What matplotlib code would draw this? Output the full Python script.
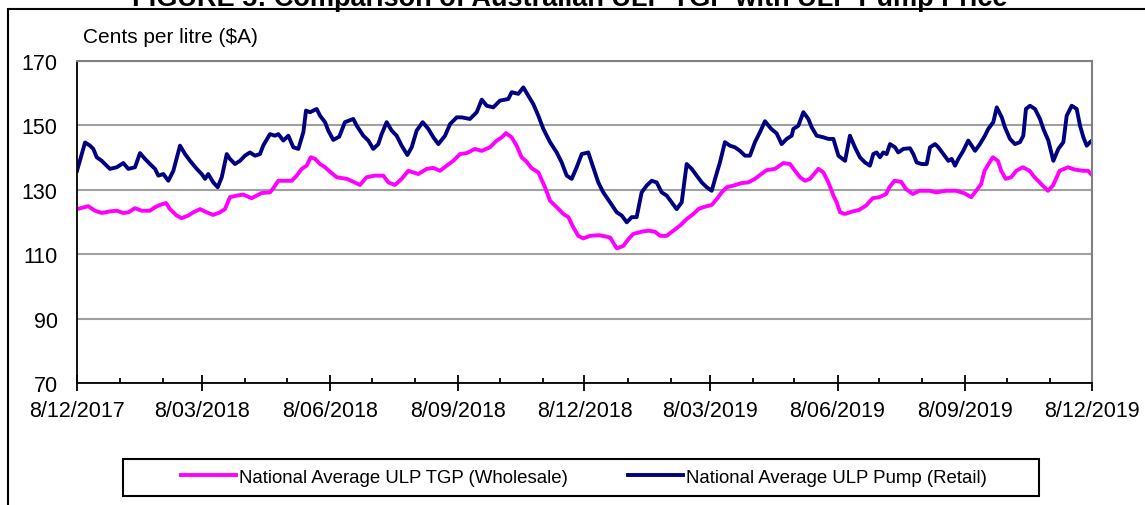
import pandas as pd
import matplotlib.pyplot as plt
import matplotlib.dates as mdates
from matplotlib.patches import Rectangle
from matplotlib.ticker import FuncFormatter

plt.rcParams['font.family'] = ['Liberation Sans', 'DejaVu Sans']

start = pd.Timestamp('2017-12-08')

# days after 8/12/2017, cents per litre
pump_day = [0, 5.8, 9.4, 11.7, 14.2, 17.8, 20.1, 23.7, 28.6, 33.3, 36.9, 41.7, 45.3, 48.9, 52.5, 56.1,
            58.5, 62.1, 65.7, 69.3, 74.1, 77.7, 81.3, 86.1, 89.7, 92.1, 94.4, 98.0, 101.2, 104.1, 107.7,
            110.0, 113.6, 117.2, 120.8, 124.4, 128.0, 131.6, 134.0, 138.8, 142.4, 144.8, 148.4, 152.0,
            155.6, 159.2, 162.8, 164.7, 167.6, 172.4, 174.8, 178.4, 180.7, 184.3, 188.6, 192.7, 198.7,
            201.2, 205.9, 209.5, 213.1, 216.7, 219.1, 222.7, 226.3, 229.9, 233.5, 237.6, 240.7, 244.3,
            248.6, 252.7, 256.3, 259.9, 264.7, 268.3, 273.1, 276.7, 282.6, 287.5, 291.1, 294.7, 299.4,
            304.2, 310.2, 312.6, 317.4, 321.0, 324.6, 328.2, 331.8, 335.4, 340.2, 345.0, 348.6, 352.2,
            355.8, 359.4, 363.0, 367.7, 371.3, 374.9, 378.5, 383.4, 388.2, 391.8, 395.4, 398.9, 402.5,
            406.1, 409.7, 413.3, 416.9, 420.5, 424.1, 427.7, 431.3, 434.9, 438.5, 442.1, 445.7, 449.3,
            452.9, 456.5, 458.9, 462.4, 466.0, 469.6, 473.2, 476.8, 480.4, 484.0, 487.6, 491.2, 494.8,
            499.1, 503.2, 506.8, 510.4, 514.0, 515.2, 518.8, 522.4, 526.0, 528.4, 532.0, 536.8, 540.4,
            544.0, 547.6, 552.4, 555.9, 559.5, 563.1, 566.7, 570.3, 572.7, 575.1, 577.5, 579.9, 582.3,
            584.7, 588.3, 590.7, 594.3, 599.1, 601.5, 603.9, 607.5, 611.1, 613.5, 617.1, 619.5, 623.1,
            626.7, 629.1, 631.5, 633.9, 637.4, 641.0, 643.5, 645.9, 649.4, 653.0, 655.4, 659.0, 661.5,
            665.1, 667.4, 671.0, 674.6, 678.2, 680.6, 682.5, 685.4, 689.0, 692.6, 695.0, 698.6, 702.2,
            705.8, 709.4, 711.8, 715.4, 719.0, 721.4, 723.8, 726.2, 728.6, 730]
pump_cpl = [135.9, 144.7, 143.7, 142.7, 140.1, 139.0, 138.0, 136.5, 137.0, 138.3, 136.5, 137.0, 141.4, 139.6,
            138.0, 136.5, 134.4, 134.9, 132.8, 135.9, 143.7, 141.1, 139.0, 136.5, 134.9, 133.4, 134.9, 132.3,
            130.8, 133.9, 141.1, 139.6, 138.0, 139.0, 140.6, 141.6, 140.6, 141.1, 143.8, 147.3, 146.8, 147.3,
            145.3, 146.8, 143.2, 142.7, 147.9, 154.6, 154.1, 155.1, 153.0, 151.0, 148.4, 145.5, 146.5, 151.0,
            152.0, 149.9, 146.8, 145.3, 142.7, 144.2, 147.3, 151.0, 148.4, 146.8, 143.7, 140.8, 143.2, 148.4,
            151.0, 148.9, 146.3, 144.2, 146.8, 150.4, 152.5, 152.5, 152.0, 154.1, 158.0, 156.1, 155.6, 157.7,
            158.2, 160.3, 159.8, 161.8, 159.2, 156.6, 153.0, 148.9, 144.8, 141.6, 138.5, 134.4, 133.4, 137.0,
            141.1, 141.6, 137.0, 132.3, 129.2, 126.1, 123.0, 122.0, 119.9, 121.5, 121.5, 129.2, 131.3, 132.8,
            132.3, 129.2, 128.2, 126.1, 124.0, 126.1, 138.0, 136.5, 134.4, 132.3, 130.8, 129.7, 133.4, 138.5,
            144.8, 143.7, 143.2, 142.1, 140.6, 140.6, 144.8, 147.9, 151.3, 149.0, 147.5, 144.2, 145.8, 146.8,
            148.9, 149.9, 154.1, 152.0, 149.4, 146.8, 146.3, 145.8, 145.8, 140.6, 139.0, 146.8, 143.2, 140.1,
            138.5, 137.5, 141.1, 141.6, 140.1, 141.6, 141.1, 144.2, 143.2, 141.6, 142.7, 142.9, 141.1, 138.5,
            138.0, 138.0, 143.2, 144.2, 143.2, 141.1, 139.0, 139.6, 137.5, 139.6, 142.1, 145.3, 143.7, 142.1,
            144.2, 146.8, 148.9, 151.0, 155.6, 152.5, 149.4, 145.8, 144.2, 144.8, 146.8, 155.1, 156.1, 155.1,
            152.0, 148.9, 145.3, 139.0, 142.7, 144.8, 153.0, 156.1, 155.1, 149.9, 146.3, 143.7, 144.8, 145.3]

tgp_day = [0, 8.1, 12.9, 17.8, 23.7, 28.6, 33.3, 36.9, 41.7, 46.5, 52.5, 56.1, 59.7, 64.0, 66.9, 71.7,
           75.3, 80.0, 83.6, 88.5, 93.3, 98.0, 102.8, 106.4, 110.0, 114.9, 119.6, 125.6, 129.2, 132.8,
           138.8, 141.2, 144.8, 154.4, 158.0, 161.6, 165.2, 168.1, 171.2, 174.8, 178.4, 182.0, 186.8,
           194.0, 198.7, 203.5, 208.3, 214.3, 220.3, 223.9, 228.7, 233.5, 238.3, 245.5, 251.5, 256.3,
           261.1, 265.9, 270.6, 275.5, 280.3, 286.2, 291.1, 297.0, 301.9, 305.5, 308.5, 312.6, 316.2,
           319.8, 323.4, 327.0, 331.8, 336.6, 340.2, 345.0, 349.8, 353.4, 356.9, 360.5, 364.1, 369.0,
           375.6, 383.4, 388.2, 393.0, 396.6, 400.1, 406.1, 410.9, 415.7, 419.3, 424.1, 428.9, 433.7,
           438.5, 443.3, 446.9, 450.4, 456.5, 460.1, 463.7, 467.3, 472.0, 478.1, 482.8, 487.6, 491.2,
           496.0, 502.0, 508.0, 512.8, 516.4, 520.0, 523.6, 527.2, 533.2, 536.8, 540.4, 544.0, 546.4,
           548.8, 552.4, 557.2, 562.7, 567.5, 572.3, 577.1, 581.9, 584.3, 587.9, 592.7, 596.3, 601.1,
           605.9, 613.1, 617.9, 625.1, 632.3, 638.3, 643.1, 646.7, 650.3, 652.7, 656.3, 658.7, 662.3,
           664.7, 667.9, 671.9, 675.5, 680.3, 685.1, 688.7, 693.5, 698.3, 701.9, 706.7, 712.7, 717.5,
           723.5, 727.1, 730]
tgp_cpl = [124.0, 124.9, 123.5, 122.8, 123.3, 123.5, 122.8, 123.0, 124.3, 123.5, 123.5, 124.6, 125.3, 125.9,
           124.0, 122.0, 121.2, 122.0, 123.0, 124.0, 123.0, 122.2, 123.0, 124.0, 127.7, 128.2, 128.5, 127.4,
           128.2, 129.0, 129.2, 130.5, 132.8, 132.8, 134.4, 136.5, 137.5, 140.1, 139.6, 138.0, 137.0, 135.6,
           133.9, 133.4, 132.5, 131.5, 133.9, 134.4, 134.4, 132.3, 131.5, 133.4, 135.9, 134.9, 136.5, 136.8,
           135.9, 137.5, 139.0, 141.1, 141.4, 142.7, 142.1, 143.2, 145.3, 146.3, 147.6, 146.3, 143.7, 140.1,
           138.7, 136.7, 135.4, 130.8, 126.6, 124.6, 122.5, 121.5, 118.4, 115.7, 114.9, 115.7, 115.9, 115.2,
           111.8, 112.6, 114.7, 116.3, 117.0, 117.3, 117.0, 115.7, 115.7, 117.3, 118.9, 120.9, 122.5, 124.0,
           124.6, 125.3, 127.1, 129.2, 130.8, 131.3, 132.1, 132.3, 133.4, 134.6, 136.1, 136.5, 138.3, 138.0,
           135.9, 133.9, 132.8, 133.4, 136.5, 135.4, 132.3, 128.2, 126.1, 123.0, 122.5, 123.2, 123.8, 125.1,
           127.4, 127.7, 128.7, 130.8, 132.8, 132.5, 130.2, 128.7, 129.7, 129.7, 129.2, 129.7, 129.7, 128.9,
           127.7, 129.7, 131.8, 135.9, 138.5, 140.1, 139.0, 135.9, 133.4, 133.9, 135.9, 137.0, 135.9, 133.9,
           131.8, 129.7, 131.3, 135.9, 137.0, 136.3, 135.9, 135.9, 134.6]

pump_dates = start + pd.to_timedelta(pump_day, unit='D')
tgp_dates = start + pd.to_timedelta(tgp_day, unit='D')

fig = plt.figure(figsize=(11.45, 5.06), dpi=100)
ax = fig.add_axes([77 / 1145, 1 - 384 / 506, 1015 / 1145, 322 / 506])

ax.plot(tgp_dates, tgp_cpl, color='#FF00FF', lw=2.8, label='National Average ULP TGP (Wholesale)')
ax.plot(pump_dates, pump_cpl, color='#000080', lw=2.8, label='National Average ULP Pump (Retail)')

ax.set_xlim(start, pd.Timestamp('2019-12-08'))
ax.set_ylim(70, 170)
ax.set_yticks([70, 90, 110, 130, 150, 170])
ax.grid(axis='y', color='#A0A0A0', lw=1.5)
ax.set_axisbelow(True)

ax.xaxis.set_major_locator(mdates.MonthLocator(bymonth=(3, 6, 9, 12), bymonthday=8))
ax.xaxis.set_minor_locator(mdates.MonthLocator(bymonthday=8))
ax.xaxis.set_major_formatter(FuncFormatter(
    lambda v, p: '{}/{:02d}/{}'.format(mdates.num2date(v).day, mdates.num2date(v).month, mdates.num2date(v).year)))

ax.tick_params(axis='x', which='major', direction='inout', length=12, width=1.3, labelsize=15.5, pad=6)
ax.tick_params(axis='x', which='minor', direction='in', length=3.5, width=1.3)
ax.tick_params(axis='y', length=0, labelsize=15.5, pad=14)

for s in ['left', 'bottom']:
    ax.spines[s].set_color('black')
    ax.spines[s].set_linewidth(1.3)
for s in ['top', 'right']:
    ax.spines[s].set_color('#808080')
    ax.spines[s].set_linewidth(1.5)

fig.text(83 / 1145, 1 - 43 / 506, 'Cents per litre ($A)', fontsize=15, ha='left', va='baseline')
fig.text(570 / 1145, 1 - 6 / 506, 'FIGURE 5: Comparison of Australian ULP TGP with ULP Pump Price',
         fontsize=19.5, fontweight='bold', ha='center', va='baseline')

# outer chart frame
fig.add_artist(Rectangle((8 / 1145, -0.2), 2, 1.2 - 10 / 506, transform=fig.transFigure,
                         fill=False, ec='black', lw=1.5))

leg = fig.legend(loc='center', bbox_to_anchor=(584 / 1145, 1 - 478.5 / 506), ncol=2, frameon=False,
                 fontsize=13.4, handlelength=2.95, handletextpad=0.2, columnspacing=3.2)
fig.add_artist(Rectangle((123 / 1145, 1 - 497 / 506), 916 / 1145, 37 / 506, transform=fig.transFigure,
                         fill=False, ec='black', lw=1.5))

plt.savefig('out.png')
